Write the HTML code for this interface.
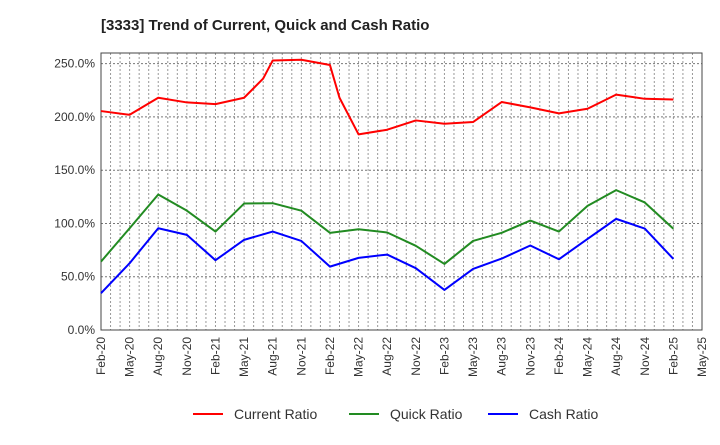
<!DOCTYPE html>
<html><head><meta charset="utf-8"><style>
body{margin:0;background:#fff;font-family:"Liberation Sans",sans-serif}
</style></head><body>
<svg id="c" width="720" height="440" xmlns="http://www.w3.org/2000/svg">
<text x="101" y="30" font-size="15" font-weight="bold" fill="#222">[3333]  Trend of Current, Quick and Cash Ratio</text>
<g id="grid"></g><g id="axes"></g><g id="series"></g><g id="legend"></g>
</svg>
<script>
const tickLabels=["Feb-20","May-20","Aug-20","Nov-20","Feb-21","May-21","Aug-21","Nov-21","Feb-22","May-22","Aug-22","Nov-22","Feb-23","May-23","Aug-23","Nov-23","Feb-24","May-24","Aug-24","Nov-24","Feb-25","May-25"];
const yTicks=[0,50,100,150,200,250];
const quarterMonths=[0,3,6,9,12,15,18,21,24,27,30,33,36,39,42,45,48,51,54,57,60];
const currentMonths=[0,3,6,9,12,15,17,18,21,24,25,27,30,33,36,39,42,45,48,51,54,57,60];
const currentRatio=[205.5,202,218,213.6,212,218,236,253,253.7,248.7,218,183.6,188,196.7,193.6,195.2,214,209,203.3,207.7,220.9,217,216.4];
const quickRatio=[64.2,95.5,127.2,112,92.4,118.7,119,112,91.2,94.6,91.5,79,62,83.6,91.2,102.7,92.4,116.5,131.3,119.7,95];
const cashRatio=[34.5,62.7,95.5,89.3,65.5,84.6,92.4,83.6,59.5,67.7,70.8,58,37.6,57.3,67,79.3,66.4,85.5,104.3,95.2,66.7];
const L=101,R=702,T=53,B=330,yMax=260,nM=63;
const X=m=>L+(R-L)*m/nM, Y=v=>B-(B-T)*v/yMax;
const NS="http://www.w3.org/2000/svg";
function mk(p,t,a){const e=document.createElementNS(NS,t);for(const k in a)e.setAttribute(k,a[k]);p.appendChild(e);return e;}
const g=document.getElementById('grid'),ax=document.getElementById('axes'),s=document.getElementById('series'),lg=document.getElementById('legend');
for(let m=1;m<nM;m++){const l=mk(g,'line',{x1:X(m),x2:X(m),y1:T,y2:B,stroke:'#999','stroke-width':1,'stroke-dasharray':'2,2'});

}
for(let v=10;v<yMax;v+=10){if(v%50===0)continue;}
yTicks.forEach(v=>{if(v>0){const l=mk(g,'line',{x1:L,x2:R,y1:Y(v),y2:Y(v),stroke:'#777','stroke-width':1,'stroke-dasharray':'2,2'});

}
const t=mk(ax,'text',{x:L-6,y:Y(v)+4,'font-size':12,'text-anchor':'end',fill:'#333'});t.textContent=v.toFixed(1)+'%';

});
const fr=mk(ax,'rect',{x:L,y:T,width:R-L,height:B-T,fill:'none',stroke:'#444','stroke-width':1});


tickLabels.forEach((lb,i)=>{const x=X(i*3);const t=mk(ax,'text',{x:0,y:0,'font-size':12,'text-anchor':'end',fill:'#333',transform:`translate(${x+4},${B+7}) rotate(-90)`});t.textContent=lb;

});
function line(ms,vals,col,name){const p=mk(s,'polyline',{points:ms.map((m,i)=>X(m)+','+Y(vals[i])).join(' '),fill:'none',stroke:col,'stroke-width':2,'stroke-linejoin':'round'});

}
line(currentMonths,currentRatio,'#ff0000','current-ratio-line');
line(quarterMonths,quickRatio,'#228b22','quick-ratio-line');
line(quarterMonths,cashRatio,'#0000ff','cash-ratio-line');
[['Current Ratio','#ff0000',193],['Quick Ratio','#228b22',349],['Cash Ratio','#0000ff',488]].forEach(([n,c,x])=>{
const l=mk(lg,'line',{x1:x,x2:x+30,y1:414,y2:414,stroke:c,'stroke-width':2});


const t=mk(lg,'text',{x:x+41,y:419,'font-size':14,fill:'#333'});t.textContent=n;

});
</script>
</body></html>
